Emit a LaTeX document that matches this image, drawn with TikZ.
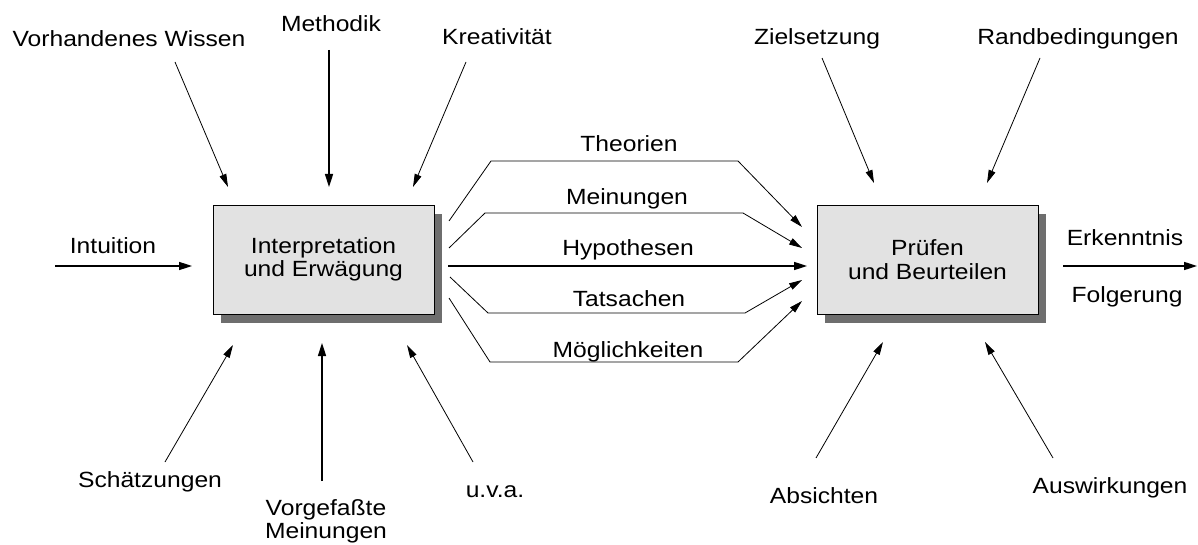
\documentclass[tikz,border=0pt]{standalone}
\usepackage{fontspec}
\setmainfont[FakeStretch=1.12]{Liberation Sans}
\usetikzlibrary{arrows.meta,shadows}
\definecolor{boxgray}{HTML}{E2E2E2}
\definecolor{shadowgray}{HTML}{6E6E6E}
\begin{document}
\begin{tikzpicture}[x=1pt,y=-1pt,
  lbl/.style={anchor=base, inner sep=0pt, font=\fontsize{22}{23}\selectfont},
  box/.style={draw=black, line width=0.8pt, fill=boxgray, minimum width=221pt, minimum height=109pt,
    inner sep=0pt, align=center, font=\fontsize{22}{23.5}\selectfont,
    drop shadow={shadow xshift=8pt, shadow yshift=-9pt, opacity=1, fill=shadowgray, draw=none}},
  thinarrow/.style={line width=0.8pt, line join=miter, -{Triangle[length=13pt,width=7pt]}},
  thickarrow/.style={line width=1.6pt, -{Triangle[length=13pt,width=8pt]}}
]
\useasboundingbox (0,0) rectangle (1198,545);

% boxes
\node[box] (IE) at (323.5,259.5) {Interpretation\\und Erwägung};
\node[box] (PB) at (927.5,259.5) {Prüfen\\und Beurteilen};

% top labels left
\node[lbl] (vw) at (129,47) {Vorhandenes Wissen};
\node[lbl] (me) at (331,32) {Methodik};
\node[lbl] (kr) at (497,45) {Kreativität};
% top labels right
\node[lbl] (zs) at (817,45) {Zielsetzung};
\node[lbl] (rb) at (1078,45) {Randbedingungen};
% side labels
\node[lbl] (in) at (113,254) {Intuition};
\node[lbl] (ek) at (1125,245) {Erkenntnis};
\node[lbl] (fo) at (1127,302) {Folgerung};
% bottom labels
\node[lbl] (sc) at (150,487) {Schätzungen};
\node[lbl, align=center] (vm) at (326,538) {Vorgefaßte\\Meinungen};
\node[lbl] (uva) at (495,497) {u.v.a.};
\node[lbl] (ab) at (824,503) {Absichten};
\node[lbl] (aw) at (1110,493) {Auswirkungen};
% middle labels
\node[lbl] (th) at (629,152) {Theorien};
\node[lbl] (mn) at (627,205) {Meinungen};
\node[lbl] (hy) at (628,255) {Hypothesen};
\node[lbl] (ts) at (629,306) {Tatsachen};
\node[lbl] (mg) at (628,357) {Möglichkeiten};

% coordinates of connector ends
\coordinate (vw1) at (175,62);  \coordinate (vw2) at (228,187);
\coordinate (me1) at (329,50);  \coordinate (me2) at (329,187);
\coordinate (kr1) at (466,62);  \coordinate (kr2) at (413,187);
\coordinate (zs1) at (822,58);  \coordinate (zs2) at (874,183);
\coordinate (rb1) at (1040,58); \coordinate (rb2) at (987,183);
\coordinate (in1) at (55,266);  \coordinate (in2) at (192,266);
\coordinate (ek1) at (1063,266); \coordinate (ek2) at (1197,266);
\coordinate (sc1) at (165,462); \coordinate (sc2) at (233,345);
\coordinate (vm1) at (322,481); \coordinate (vm2) at (322,343);
\coordinate (uva1) at (473,462); \coordinate (uva2) at (407,345);
\coordinate (ab1) at (816,458); \coordinate (ab2) at (883,342);
\coordinate (aw1) at (1053,458); \coordinate (aw2) at (985,342);

\coordinate (th1) at (449,221); \coordinate (th2) at (802,227);
\coordinate (mn1) at (449,248); \coordinate (mn2) at (802,248);
\coordinate (hy1) at (448,266); \coordinate (hy2) at (807,266);
\coordinate (ts1) at (450,277); \coordinate (ts2) at (802,280);
\coordinate (mg1) at (449,298); \coordinate (mg2) at (802,301);

% inputs
\draw[thinarrow] (vw1) -- (vw2);
\draw[thickarrow] (me1) -- (me2);
\draw[thinarrow] (kr1) -- (kr2);
\draw[thinarrow] (zs1) -- (zs2);
\draw[thinarrow] (rb1) -- (rb2);
\draw[thickarrow] (in1) -- (in2);
\draw[thickarrow] (ek1) -- (ek2);
\draw[thinarrow] (sc1) -- (sc2);
\draw[thickarrow] (vm1) -- (vm2);
\draw[thinarrow] (uva1) -- (uva2);
\draw[thinarrow] (ab1) -- (ab2);
\draw[thinarrow] (aw1) -- (aw2);

% middle connections
\draw[thinarrow] (th1) -- (491,161) -- (738,161) -- (th2);
\draw[thinarrow] (mn1) -- (485,213) -- (743,213) -- (mn2);
\draw[thickarrow] (hy1) -- (hy2);
\draw[thinarrow] (ts1) -- (488,313) -- (745,313) -- (ts2);
\draw[thinarrow] (mg1) -- (490,362) -- (738,362) -- (mg2);
\end{tikzpicture}
\end{document}
